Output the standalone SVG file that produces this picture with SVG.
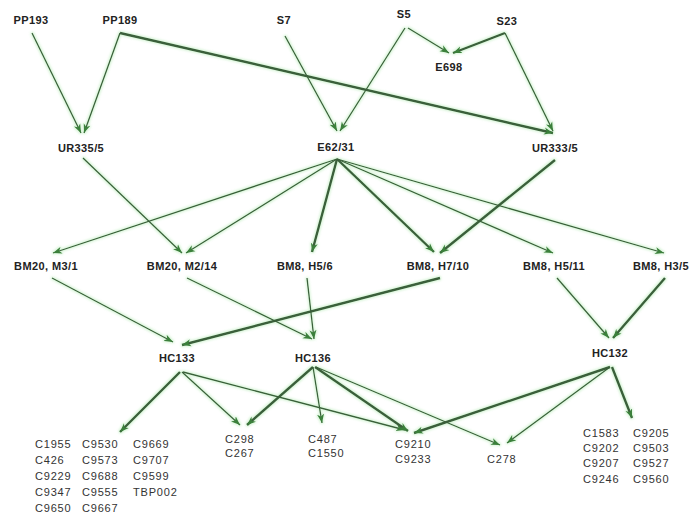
<svg xmlns="http://www.w3.org/2000/svg" width="691" height="517" viewBox="0 0 691 517">
<style>
.n{font-family:"Liberation Sans",Arial,sans-serif;font-size:11px;font-weight:bold;fill:#222;text-anchor:middle;letter-spacing:0.4px}
.l{font-family:"Liberation Sans",Arial,sans-serif;font-size:11px;fill:#333;letter-spacing:0.8px}
.e{fill:none;stroke:#3a5f3a;stroke-width:1.3;marker-end:url(#ah)}
.t{stroke-width:2.4}
</style>
<defs>
<marker id="ah" markerUnits="userSpaceOnUse" markerWidth="10" markerHeight="8" refX="9" refY="4" orient="auto">
<path d="M0,0.5 L9,4 L0,7.5 L2.5,4 z" fill="#3a803a"/>
</marker>
<filter id="glow" x="-5%" y="-5%" width="110%" height="110%">
<feMorphology in="SourceAlpha" operator="dilate" radius="1" result="d"/>
<feGaussianBlur in="d" stdDeviation="1" result="b"/>
<feFlood flood-color="#8fe08f" flood-opacity="0.35"/>
<feComposite in2="b" operator="in" result="g"/>
<feMerge><feMergeNode in="g"/><feMergeNode in="SourceGraphic"/></feMerge>
</filter>
</defs>
<rect width="691" height="517" fill="#fff"/>
<g id="connectors" filter="url(#glow)">
<line class="e" x1="32" y1="33" x2="81" y2="133"/>
<line class="e" x1="120" y1="33" x2="84" y2="133"/>
<line class="e t" x1="120" y1="33" x2="553" y2="133"/>
<line class="e" x1="285" y1="36" x2="337" y2="131"/>
<line class="e" x1="405" y1="28" x2="340" y2="131"/>
<line class="e" x1="408" y1="28" x2="449" y2="53"/>
<line class="e t" x1="505" y1="33" x2="453" y2="53"/>
<line class="e" x1="505" y1="33" x2="553" y2="131"/>
<line class="e" x1="83" y1="158" x2="182" y2="253"/>
<line class="e" x1="337" y1="159" x2="53" y2="253"/>
<line class="e" x1="337" y1="159" x2="186" y2="253"/>
<line class="e t" x1="337" y1="159" x2="312" y2="252"/>
<line class="e t" x1="337" y1="159" x2="434" y2="252"/>
<line class="e t" x1="555" y1="160" x2="440" y2="253"/>
<line class="e" x1="337" y1="159" x2="553" y2="253"/>
<line class="e" x1="337" y1="159" x2="664" y2="253"/>
<line class="e" x1="52" y1="278" x2="173" y2="342"/>
<line class="e t" x1="440" y1="278" x2="182" y2="345"/>
<line class="e" x1="187" y1="278" x2="312" y2="339"/>
<line class="e" x1="307" y1="278" x2="314" y2="339"/>
<line class="e" x1="557" y1="278" x2="609" y2="338"/>
<line class="e t" x1="665" y1="278" x2="613" y2="338"/>
<line class="e t" x1="180" y1="372" x2="120" y2="432"/>
<line class="e" x1="182" y1="372" x2="240" y2="425"/>
<line class="e" x1="183" y1="372" x2="405" y2="430"/>
<line class="e t" x1="313" y1="367" x2="247" y2="425"/>
<line class="e" x1="313" y1="367" x2="322" y2="423"/>
<line class="e t" x1="315" y1="367" x2="408" y2="431"/>
<line class="e" x1="316" y1="367" x2="500" y2="445"/>
<line class="e t" x1="610" y1="367" x2="414" y2="433"/>
<line class="e" x1="610" y1="367" x2="507" y2="443"/>
<line class="e t" x1="612" y1="367" x2="632" y2="418"/>
</g>
<g id="PP193"><text class="n" x="31" y="24">PP193</text></g>
<g id="PP189"><text class="n" x="120" y="24">PP189</text></g>
<g id="S7"><text class="n" x="284" y="24">S7</text></g>
<g id="S5"><text class="n" x="404" y="18">S5</text></g>
<g id="S23"><text class="n" x="507" y="25">S23</text></g>
<g id="E698"><text class="n" x="449" y="71">E698</text></g>
<g id="UR335-5"><text class="n" x="81" y="152">UR335/5</text></g>
<g id="E62-31"><text class="n" x="336" y="151">E62/31</text></g>
<g id="UR333-5"><text class="n" x="555" y="152">UR333/5</text></g>
<g id="BM20-M3-1"><text class="n" x="46" y="270">BM20, M3/1</text></g>
<g id="BM20-M2-14"><text class="n" x="182" y="270">BM20, M2/14</text></g>
<g id="BM8-H5-6"><text class="n" x="305" y="270">BM8, H5/6</text></g>
<g id="BM8-H7-10"><text class="n" x="438" y="270">BM8, H7/10</text></g>
<g id="BM8-H5-11"><text class="n" x="554" y="270">BM8, H5/11</text></g>
<g id="BM8-H3-5"><text class="n" x="661" y="270">BM8, H3/5</text></g>
<g id="HC133"><text class="n" x="177" y="362">HC133</text></g>
<g id="HC136"><text class="n" x="313" y="362">HC136</text></g>
<g id="HC132"><text class="n" x="610" y="357">HC132</text></g>
<g id="list-HC133">
<text class="l" x="35" y="448">C1955</text><text class="l" x="82" y="448">C9530</text><text class="l" x="133" y="448">C9669</text>
<text class="l" x="35" y="464">C426</text><text class="l" x="82" y="464">C9573</text><text class="l" x="133" y="464">C9707</text>
<text class="l" x="35" y="480">C9229</text><text class="l" x="82" y="480">C9688</text><text class="l" x="133" y="480">C9599</text>
<text class="l" x="35" y="496">C9347</text><text class="l" x="82" y="496">C9555</text><text class="l" x="133" y="496">TBP002</text>
<text class="l" x="35" y="512">C9650</text><text class="l" x="82" y="512">C9667</text>
</g>
<g id="C298"><text class="l" x="225" y="443">C298</text><text class="l" x="225" y="457">C267</text></g>
<g id="C487"><text class="l" x="308" y="443">C487</text><text class="l" x="308" y="457">C1550</text></g>
<g id="C9210"><text class="l" x="395" y="448">C9210</text><text class="l" x="395" y="463">C9233</text></g>
<g id="C278"><text class="l" x="487" y="463">C278</text></g>
<g id="list-HC132">
<text class="l" x="583" y="437">C1583</text><text class="l" x="633" y="437">C9205</text>
<text class="l" x="583" y="452">C9202</text><text class="l" x="633" y="452">C9503</text>
<text class="l" x="583" y="467">C9207</text><text class="l" x="633" y="467">C9527</text>
<text class="l" x="583" y="483">C9246</text><text class="l" x="633" y="483">C9560</text>
</g>
</svg>
